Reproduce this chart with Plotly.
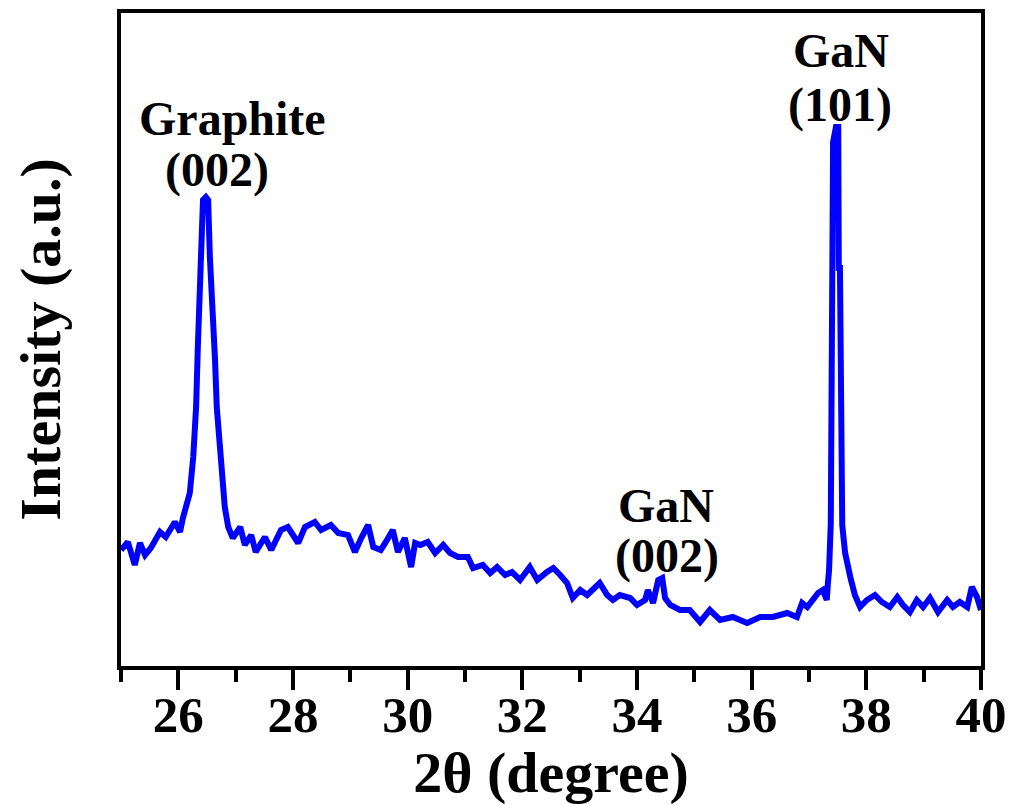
import plotly.graph_objects as go

two_theta = [
    25.00, 25.07, 25.12, 25.24, 25.33, 25.42, 25.52, 25.68, 25.78, 25.94,
    26.03, 26.08, 26.13, 26.20, 26.26, 26.31, 26.34, 26.38, 26.43, 26.48,
    26.52, 26.55, 26.60, 26.64, 26.67, 26.73, 26.78, 26.81, 26.87, 26.95,
    27.08, 27.16, 27.27, 27.35, 27.51, 27.62, 27.79, 27.91, 28.09, 28.21,
    28.38, 28.49, 28.66, 28.79, 28.96, 29.08, 29.19, 29.31, 29.40, 29.53,
    29.62, 29.74, 29.83, 29.95, 30.06, 30.13, 30.22, 30.35, 30.48, 30.62,
    30.74, 30.88, 31.05, 31.14, 31.31, 31.44, 31.56, 31.70, 31.82, 31.96,
    32.13, 32.26, 32.43, 32.54, 32.66, 32.78, 32.88, 33.01, 33.13, 33.23,
    33.35, 33.48, 33.58, 33.70, 33.88, 34.00, 34.14, 34.19, 34.28, 34.37,
    34.44, 34.49, 34.58, 34.75, 34.92, 35.10, 35.27, 35.45, 35.67, 35.92,
    36.15, 36.37, 36.62, 36.79, 36.88, 36.97, 37.07, 37.16, 37.24, 37.31,
    37.33, 37.35, 37.38, 37.40, 37.42, 37.47, 37.51, 37.52, 37.54, 37.58,
    37.63, 37.72, 37.80, 37.89, 38.01, 38.15, 38.27, 38.41, 38.54, 38.64,
    38.76, 38.88, 38.99, 39.11, 39.25, 39.41, 39.51, 39.63, 39.76, 39.84,
    39.93, 40.00,
]
intensity = [
    116, 121, 124, 101, 123, 111, 118, 134, 129, 144,
    134, 148, 159, 173, 209, 259, 319, 389, 466, 469,
    466, 409, 363, 306, 259, 213, 179, 159, 139, 128,
    139, 121, 131, 114, 129, 116, 136, 139, 123, 139,
    144, 136, 141, 133, 131, 114, 128, 141, 119, 116,
    124, 136, 114, 128, 99, 123, 121, 124, 113, 121,
    113, 109, 109, 98, 101, 93, 99, 91, 94, 86,
    99, 86, 94, 98, 91, 83, 68, 76, 71, 76,
    83, 71, 66, 71, 68, 61, 66, 76, 63, 86,
    88, 68, 61, 56, 56, 44, 56, 46, 49, 43,
    49, 49, 53, 49, 63, 59, 66, 73, 76, 66,
    83, 96, 143, 441, 524, 539, 539, 398, 398, 141,
    113, 89, 71, 59, 66, 71, 64, 59, 69, 61,
    54, 66, 59, 68, 54, 66, 59, 64, 59, 79,
    69, 56,
]

x_ticks = [26, 28, 30, 32, 34, 36, 38, 40]

# peak labels: (text, 2theta, intensity)
peak_labels = [
    ("Graphite", 26.95, 548),
    ("(002)", 26.67, 496),
    ("GaN", 34.51, 161),
    ("(002)", 34.52, 110),
    ("GaN", 37.56, 616),
    ("(101)", 37.54, 561),
]

FONT = "Liberation Serif"

fig = go.Figure()
fig.add_trace(go.Scatter(
    x=two_theta, y=intensity, mode="lines",
    line=dict(color="#0000FF", width=6),
    showlegend=False, hoverinfo="skip",
))

for text, xx, yy in peak_labels:
    fig.add_annotation(
        x=xx, y=yy, xref="x", yref="y", text=f"<b>{text}</b>",
        showarrow=False,
        font=dict(family=FONT, size=48, color="black"),
    )

# page body has an 8px margin; figure offset compensated in the margins
fig.update_layout(
    width=1005, height=797,
    margin=dict(l=113, r=32, t=5, b=139),
    paper_bgcolor="white", plot_bgcolor="white",
    xaxis=dict(
        range=[25, 40], tickvals=x_ticks, automargin=False,
        ticks="outside", ticklen=20, tickwidth=4, tickcolor="black",
        ticklabelstandoff=-19, ticklabeloverflow="allow",
        minor=dict(dtick=1, tick0=25, ticks="outside", ticklen=12,
                   tickwidth=4, tickcolor="black"),
        showline=True, linewidth=4, linecolor="black", mirror=True,
        showgrid=False, zeroline=False,
        tickfont=dict(family=FONT, size=51, color="black", weight="bold"),
        title=dict(text="2θ (degree)", standoff=14,
                   font=dict(family=FONT, size=58, color="black", weight="bold")),
    ),
    yaxis=dict(
        range=[0, 653], showticklabels=False, ticks="", automargin=False,
        showline=True, linewidth=4, linecolor="black", mirror=True,
        showgrid=False, zeroline=False,
        title=dict(text="Intensity (a.u.)", standoff=54,
                   font=dict(family=FONT, size=58, color="black", weight="bold")),
    ),
)

fig.write_html("out.html")
